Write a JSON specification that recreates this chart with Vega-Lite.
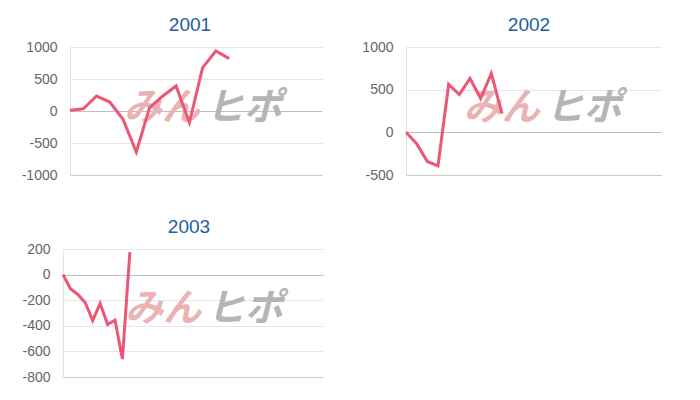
{
  "$schema": "https://vega.github.io/schema/vega-lite/v6.json",
  "padding": {"left": 21, "top": 16, "right": 0, "bottom": 0},
  "background": "white",
  "config": {
    "view": {"stroke": null},
    "font": "Liberation Sans",
    "axis": {"labelFont": "Liberation Sans", "labelFontSize": 14, "labelColor": "#666666", "ticks": false, "labelPadding": 13, "title": null, "labelOverlap": false, "labelExpr": "'' + datum.value"},
    "axisX": {"labels": false, "grid": false, "ticks": false, "domainColor": "#cccccc", "domainWidth": 1},
    "axisY": {"grid": true, "gridColor": {"condition": {"test": "datum.value === 0", "value": "#bfbfbf"}, "value": "#e6e6e6"}, "domainColor": "#e3e3e3"},
    "title": {"font": "Liberation Sans", "fontSize": 19, "fontWeight": "normal", "color": "#1d5e9e", "anchor": "middle", "offset": 5}
  },
  "datasets": {
    "d2001": [
      {"i": 0, "v": 10}, {"i": 1, "v": 35}, {"i": 2, "v": 234}, {"i": 3, "v": 140}, {"i": 4, "v": -130},
      {"i": 5, "v": -640}, {"i": 6, "v": 52}, {"i": 7, "v": 234}, {"i": 8, "v": 390}, {"i": 9, "v": -182},
      {"i": 10, "v": 677}, {"i": 11, "v": 937}, {"i": 12, "v": 818}
    ],
    "d2002": [
      {"i": 0, "v": 0}, {"i": 1, "v": -133}, {"i": 2, "v": -341}, {"i": 3, "v": -392}, {"i": 4, "v": 561},
      {"i": 5, "v": 443}, {"i": 6, "v": 631}, {"i": 7, "v": 396}, {"i": 8, "v": 690}, {"i": 9, "v": 220}
    ],
    "d2003": [
      {"i": 0, "v": 0}, {"i": 1, "v": -110}, {"i": 2, "v": -155}, {"i": 3, "v": -220}, {"i": 4, "v": -360},
      {"i": 5, "v": -225}, {"i": 6, "v": -390}, {"i": 7, "v": -355}, {"i": 8, "v": -660}, {"i": 9, "v": 175}
    ],
    "mark1": [{"t": "みん"}],
    "mark2": [{"t": "ヒポ"}]
  },
  "spacing": 36,
  "vconcat": [
    {
      "spacing": 39,
      "hconcat": [
        {
          "title": {"text": "2001", "dx": -6},
          "width": 252, "height": 128,
          "layer": [
            {"data": {"name": "mark1"}, "mark": {"type": "text", "align": "right", "baseline": "middle", "font": "Noto Sans CJK JP", "fontWeight": "bold", "fontStyle": "italic", "fontSize": 38, "color": "#eab3b3"},
             "encoding": {"text": {"field": "t"},
               "x": {"datum": 9.8, "type": "quantitative", "scale": {"domain": [0, 19], "nice": false, "zero": false}, "axis": {}},
               "y": {"datum": 31, "type": "quantitative", "scale": {"domain": [-1000, 1000], "nice": false}, "axis": {"values": [-1000, -500, 0, 500, 1000]}}}},
            {"data": {"name": "mark2"}, "mark": {"type": "text", "align": "left", "baseline": "middle", "font": "Noto Sans CJK JP", "fontWeight": "bold", "fontStyle": "italic", "fontSize": 38, "color": "#b5b5b5"},
             "encoding": {"text": {"field": "t"},
               "x": {"datum": 10.25, "type": "quantitative", "scale": {"domain": [0, 19], "nice": false, "zero": false}, "axis": {}},
               "y": {"datum": 31, "type": "quantitative", "scale": {"domain": [-1000, 1000], "nice": false}, "axis": {"values": [-1000, -500, 0, 500, 1000]}}}},
            {"data": {"name": "d2001"}, "mark": {"type": "line", "color": "#ec5775", "strokeWidth": 3, "strokeJoin": "miter"},
             "encoding": {
               "x": {"field": "i", "type": "quantitative", "scale": {"domain": [0, 19], "nice": false, "zero": false}, "axis": {}},
               "y": {"field": "v", "type": "quantitative", "scale": {"domain": [-1000, 1000], "nice": false}, "axis": {"values": [-1000, -500, 0, 500, 1000]}}
             }}
          ]
        },
        {
          "title": {"text": "2002", "dx": -5},
          "width": 256, "height": 128,
          "layer": [
            {"data": {"name": "mark1"}, "mark": {"type": "text", "align": "right", "baseline": "middle", "font": "Noto Sans CJK JP", "fontWeight": "bold", "fontStyle": "italic", "fontSize": 38, "color": "#eab3b3"},
             "encoding": {"text": {"field": "t"},
               "x": {"datum": 12.55, "type": "quantitative", "scale": {"domain": [0, 24], "nice": false, "zero": false}, "axis": {}},
               "y": {"datum": 278, "type": "quantitative", "scale": {"domain": [-500, 1000], "nice": false}, "axis": {"values": [-500, 0, 500, 1000]}}}},
            {"data": {"name": "mark2"}, "mark": {"type": "text", "align": "left", "baseline": "middle", "font": "Noto Sans CJK JP", "fontWeight": "bold", "fontStyle": "italic", "fontSize": 38, "color": "#b5b5b5"},
             "encoding": {"text": {"field": "t"},
               "x": {"datum": 13.1, "type": "quantitative", "scale": {"domain": [0, 24], "nice": false, "zero": false}, "axis": {}},
               "y": {"datum": 278, "type": "quantitative", "scale": {"domain": [-500, 1000], "nice": false}, "axis": {"values": [-500, 0, 500, 1000]}}}},
            {"data": {"name": "d2002"}, "mark": {"type": "line", "color": "#ec5775", "strokeWidth": 3, "strokeJoin": "miter"},
             "encoding": {
               "x": {"field": "i", "type": "quantitative", "scale": {"domain": [0, 24], "nice": false, "zero": false}, "axis": {}},
               "y": {"field": "v", "type": "quantitative", "scale": {"domain": [-500, 1000], "nice": false}, "axis": {"values": [-500, 0, 500, 1000]}}
             }}
          ]
        }
      ]
    },
    {
      "hconcat": [
        {
          "title": {"text": "2003", "dx": -7.5},
          "width": 253, "height": 128,
          "layer": [
            {"data": {"name": "mark1"}, "mark": {"type": "text", "align": "right", "baseline": "middle", "font": "Noto Sans CJK JP", "fontWeight": "bold", "fontStyle": "italic", "fontSize": 38, "color": "#eab3b3"},
             "encoding": {"text": {"field": "t"},
               "x": {"datum": 18.6, "type": "quantitative", "scale": {"domain": [0, 35], "range": [-7, 253], "nice": false, "zero": false}, "axis": {}},
               "y": {"datum": -280, "type": "quantitative", "scale": {"domain": [-800, 200], "nice": false}, "axis": {"values": [-800, -600, -400, -200, 0, 200], "offset": 7}}}},
            {"data": {"name": "mark2"}, "mark": {"type": "text", "align": "left", "baseline": "middle", "font": "Noto Sans CJK JP", "fontWeight": "bold", "fontStyle": "italic", "fontSize": 38, "color": "#b5b5b5"},
             "encoding": {"text": {"field": "t"},
               "x": {"datum": 19.4, "type": "quantitative", "scale": {"domain": [0, 35], "range": [-7, 253], "nice": false, "zero": false}, "axis": {}},
               "y": {"datum": -280, "type": "quantitative", "scale": {"domain": [-800, 200], "nice": false}, "axis": {"values": [-800, -600, -400, -200, 0, 200], "offset": 7}}}},
            {"data": {"name": "d2003"}, "mark": {"type": "line", "color": "#ec5775", "strokeWidth": 3, "strokeJoin": "miter"},
             "encoding": {
               "x": {"field": "i", "type": "quantitative", "scale": {"domain": [0, 35], "range": [-7, 253], "nice": false, "zero": false}, "axis": {}},
               "y": {"field": "v", "type": "quantitative", "scale": {"domain": [-800, 200], "nice": false}, "axis": {"values": [-800, -600, -400, -200, 0, 200], "offset": 7}}
             }}
          ]
        }
      ]
    }
  ]
}
